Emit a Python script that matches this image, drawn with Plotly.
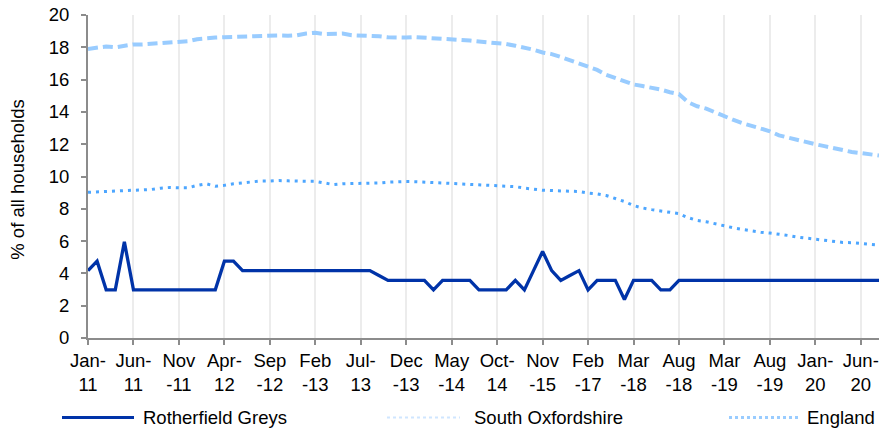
import plotly.graph_objects as go

categories = [
    "Jan-11", "Feb-11", "Mar-11", "Apr-11", "May-11", "Jun-11", "Jul-11", "Aug-11", "Sep-11", "Oct-11", "Nov-11", "Dec-11",
    "Jan-12", "Feb-12", "Mar-12", "Apr-12", "May-12", "Jun-12", "Jul-12", "Aug-12", "Sep-12", "Oct-12", "Nov-12", "Dec-12",
    "Jan-13", "Feb-13", "Mar-13", "Apr-13", "May-13", "Jun-13", "Jul-13", "Aug-13", "Sep-13", "Oct-13", "Nov-13", "Dec-13",
    "Jan-14", "Feb-14", "Mar-14", "Apr-14", "May-14", "Jun-14", "Jul-14", "Aug-14", "Sep-14", "Oct-14",
    "Dec-14", "Mar-15", "Jun-15", "Sep-15", "Nov-15",
    "Feb-16", "May-16", "Aug-16", "Nov-16", "Feb-17",
    "May-17", "Aug-17", "Nov-17", "Feb-18", "Mar-18",
    "Apr-18", "May-18", "Jun-18", "Jul-18", "Aug-18",
    "Oct-18", "Nov-18", "Jan-19", "Feb-19", "Mar-19",
    "Apr-19", "May-19", "Jun-19", "Jul-19", "Aug-19",
    "Sep-19", "Oct-19", "Nov-19", "Dec-19", "Jan-20",
    "Feb-20", "Mar-20", "Apr-20", "May-20", "Jun-20",
    "Jul-20", "Aug-20",
]

tick_categories = ["Jan-11", "Jun-11", "Nov-11", "Apr-12", "Sep-12", "Feb-13", "Jul-13", "Dec-13", "May-14",
                   "Oct-14", "Nov-15", "Feb-17", "Mar-18", "Aug-18", "Mar-19", "Aug-19", "Jan-20", "Jun-20"]
tick_labels = ["Jan-<br>11", "Jun-<br>11", "Nov<br>-11", "Apr-<br>12", "Sep<br>-12", "Feb<br>-13", "Jul-<br>13",
               "Dec<br>-13", "May<br>-14", "Oct-<br>14", "Nov<br>-15", "Feb<br>-17", "Mar<br>-18", "Aug<br>-18",
               "Mar<br>-19", "Aug<br>-19", "Jan-<br>20", "Jun-<br>20"]

rotherfield_greys = [
    4.17, 4.76, 2.98, 2.98, 5.95, 2.98, 2.98, 2.98, 2.98, 2.98, 2.98, 2.98, 2.98, 2.98, 2.98, 4.76, 4.76,
    4.17, 4.17, 4.17, 4.17, 4.17, 4.17, 4.17, 4.17, 4.17, 4.17, 4.17, 4.17, 4.17, 4.17, 4.17,
    3.87, 3.57, 3.57, 3.57, 3.57, 3.57, 2.98, 3.57, 3.57, 3.57, 3.57, 2.98, 2.98, 2.98, 2.98,
    3.57, 2.98, 4.17, 5.36, 4.17, 3.57, 3.87, 4.17, 2.98, 3.57, 3.57, 3.57, 2.38, 3.57, 3.57, 3.57,
    2.98, 2.98, 3.57, 3.57, 3.57, 3.57, 3.57, 3.57, 3.57, 3.57, 3.57, 3.57, 3.57, 3.57, 3.57, 3.57,
    3.57, 3.57, 3.57, 3.57, 3.57, 3.57, 3.57, 3.57, 3.57,
]

south_oxfordshire = [
    9.02, 9.05, 9.08, 9.09, 9.10, 9.15, 9.18, 9.20, 9.28, 9.32, 9.30, 9.30, 9.45, 9.55, 9.40, 9.45, 9.55,
    9.60, 9.68, 9.72, 9.72, 9.75, 9.73, 9.70, 9.70, 9.70, 9.60, 9.50, 9.55, 9.56, 9.56, 9.58, 9.60, 9.65,
    9.69, 9.69, 9.68, 9.65, 9.62, 9.58, 9.56, 9.52, 9.50, 9.48, 9.45, 9.42, 9.40, 9.37, 9.28, 9.20, 9.15,
    9.13, 9.11, 9.09, 9.07, 8.97, 8.92, 8.82, 8.65, 8.45, 8.20, 8.05, 7.95, 7.87, 7.78, 7.70, 7.45, 7.28,
    7.20, 7.06, 6.95, 6.82, 6.72, 6.62, 6.55, 6.50, 6.44, 6.35, 6.25, 6.19, 6.12, 6.03, 5.97, 5.92, 5.90,
    5.85, 5.78, 5.75,
]

england = [
    17.90, 17.95, 18.05, 18.00, 18.10, 18.18, 18.18, 18.22, 18.27, 18.30, 18.33, 18.38, 18.50, 18.58, 18.60,
    18.63, 18.65, 18.68, 18.70, 18.72, 18.75, 18.73, 18.72, 18.75, 18.85, 18.90, 18.82, 18.82, 18.85, 18.75,
    18.73, 18.73, 18.68, 18.62, 18.58, 18.60, 18.63, 18.60, 18.58, 18.52, 18.50, 18.47, 18.42, 18.36, 18.32,
    18.30, 18.20, 18.10, 18.00, 17.85, 17.68, 17.58, 17.40, 17.19, 16.98, 16.80, 16.60, 16.30, 16.10, 15.85,
    15.70, 15.60, 15.50, 15.38, 15.22, 15.10, 14.60, 14.35, 14.20, 13.95, 13.75, 13.50, 13.30, 13.12, 12.95,
    12.80, 12.55, 12.40, 12.27, 12.10, 12.00, 11.88, 11.75, 11.62, 11.52, 11.45, 11.35, 11.30,
]

series_names = ["Rotherfield Greys", "South Oxfordshire", "England"]
colors = ["#0033A8", "#4DA6FF", "#99CCFF"]

FONT = "Liberation Sans, Arial, sans-serif"
FS = 18.5

fig = go.Figure()
fig.add_trace(go.Scatter(x=categories, y=england, mode="lines", name=series_names[2],
                         line=dict(color=colors[2], width=4, dash="10px,5px"), showlegend=False))
fig.add_trace(go.Scatter(x=categories, y=south_oxfordshire, mode="lines", name=series_names[1],
                         line=dict(color=colors[1], width=3, dash="3px,5px"), showlegend=False))
fig.add_trace(go.Scatter(x=categories, y=rotherfield_greys, mode="lines", name=series_names[0],
                         line=dict(color=colors[0], width=3.3), showlegend=False))

# plot area (px): x 88..879, y 15..338.5
PW = 791.0
PH = 323.5

def px_x(p):
    return (p - 88.0) / PW

def px_y(p):
    return (338.5 - p) / PH

legend_items = [
    (series_names[0], colors[0], "solid", 3, 62, 134, 143),
    (series_names[1], "#cfe6ff", "dot", 2, 387, 460, 474),
    (series_names[2], colors[2], "dot", 3, 729, 799, 807),
]
ly = px_y(418)
for name, col, dash, w, x0, x1, tx in legend_items:
    fig.add_shape(type="line", xref="paper", yref="paper", x0=px_x(x0), x1=px_x(x1), y0=ly, y1=ly,
                  line=dict(color=col, width=w, dash=dash))
    fig.add_annotation(xref="paper", yref="paper", x=px_x(tx), y=ly, text=name, showarrow=False,
                       xanchor="left", yanchor="middle", xshift=-2,
                       font=dict(family=FONT, size=FS, color="#000000"))

fig.add_annotation(xref="paper", yref="paper", x=px_x(18), y=px_y(180), text="% of all households",
                   showarrow=False, textangle=-90, xanchor="center", yanchor="middle",
                   font=dict(family=FONT, size=FS, color="#000000"))

fig.update_layout(
    width=879, height=433,
    margin=dict(l=88, r=0, t=15, b=94.5),
    paper_bgcolor="white", plot_bgcolor="white",
    font=dict(family=FONT, size=FS, color="#000000"),
    showlegend=False,
)
fig.update_xaxes(
    type="category", categoryorder="array", categoryarray=categories,
    range=[0, len(categories) - 1],
    tickmode="array", tickvals=tick_categories, ticktext=tick_labels,
    showgrid=True, gridcolor="#ececec", gridwidth=1.5,
    showline=True, linecolor="#8c8c8c", linewidth=2,
    ticks="outside", ticklen=5, tickcolor="#8c8c8c", tickwidth=2,
    tickangle=0, tickfont=dict(family=FONT, size=FS, color="#000000"),
    ticklabeloverflow="allow",
    zeroline=False,
)
fig.update_yaxes(
    range=[0, 20], dtick=2, tick0=0,
    showgrid=False, zeroline=False,
    showline=True, linecolor="#8c8c8c", linewidth=2,
    ticks="outside", ticklen=5, tickcolor="#8c8c8c", tickwidth=2,
    ticklabelstandoff=8, ticklabeloverflow="allow",
    tickfont=dict(family=FONT, size=FS, color="#000000"),
)

fig.write_html("out.html",
               config={"displayModeBar": False},
               post_script="document.body.style.margin='0';document.body.style.overflow='hidden';")
